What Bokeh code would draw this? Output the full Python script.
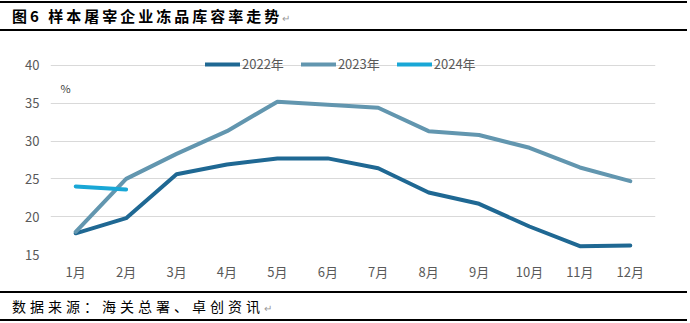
from bokeh.plotting import figure
from bokeh.models import Div, Range1d, Legend, LegendItem, Label, FixedTicker
from bokeh.layouts import column
from bokeh.embed import file_html
from bokeh.resources import INLINE

months = ["1月", "2月", "3月", "4月", "5月", "6月", "7月", "8月", "9月", "10月", "11月", "12月"]
x_idx = list(range(1, 13))
y2022 = [17.8, 19.8, 25.6, 26.9, 27.7, 27.7, 26.4, 23.2, 21.7, 18.7, 16.1, 16.2]
y2023 = [18.0, 25.0, 28.3, 31.3, 35.2, 34.8, 34.4, 31.3, 30.8, 29.1, 26.5, 24.7]
y2024 = [24.0, 23.6]
x2024 = x_idx[:len(y2024)]
series_names = ["2022年", "2023年", "2024年"]
yticks = [15, 20, 25, 30, 35, 40]
title_text = "图6 样本屠宰企业冻品库容率走势"
source_text = "数据来源：海关总署、卓创资讯"
unit_text = "%"

FONT = "Noto Sans CJK SC"
colors = ["#1F6893", "#6296AF", "#19A7D6"]

title_div = Div(
    text=(
        '<div style="box-sizing:border-box;width:687px;height:30px;margin-top:1px;'
        'border-top:2px solid #000;border-bottom:2px solid #000;padding-left:12px;'
        f"font-family:'{FONT}';font-weight:bold;font-size:15px;letter-spacing:3px;"
        'line-height:26px;white-space:nowrap;color:#000;">'
        f'{title_text}<span style="color:#999;font-weight:normal;font-size:10px;letter-spacing:0;">↵</span></div>'
    ),
    width=690, height=31, margin=(0, 0, 0, 0),
)

source_div = Div(
    text=(
        '<div style="box-sizing:border-box;width:687px;height:30px;'
        'border-top:2px solid #000;border-bottom:2px solid #000;padding-left:12px;'
        f"font-family:'{FONT}';font-size:14px;letter-spacing:4px;"
        'line-height:26px;white-space:nowrap;color:#000;">'
        f'{source_text}<span style="color:#999;font-size:10px;letter-spacing:0;">↵</span></div>'
    ),
    width=690, height=32, margin=(0, 0, 0, 0),
)

p = figure(
    width=690, height=260, output_backend="svg", toolbar_location=None,
    x_range=Range1d(0.5, 12.5), y_range=Range1d(15, 41.3),
    min_border_left=50, min_border_right=35, min_border_top=24, min_border_bottom=37,
    background_fill_color="white", border_fill_color="white",
)
p.outline_line_color = None

r1 = p.line(x_idx, y2022, line_color=colors[0], line_width=4, line_cap="round", line_join="round")
r2 = p.line(x_idx, y2023, line_color=colors[1], line_width=4, line_cap="round", line_join="round")
r3 = p.line(x2024, y2024, line_color=colors[2], line_width=4, line_cap="round", line_join="round")

p.xaxis.ticker = FixedTicker(ticks=x_idx)
p.xaxis.major_label_overrides = {i: m for i, m in zip(x_idx, months)}
p.yaxis.ticker = FixedTicker(ticks=yticks)
for ax in (p.xaxis, p.yaxis):
    ax.axis_line_color = None
    ax.major_tick_line_color = None
    ax.minor_tick_line_color = None
    ax.major_tick_out = 0
    ax.major_tick_in = 0
    ax.minor_tick_out = 0
    ax.major_label_text_color = "#595959"
    ax.major_label_text_font = FONT
    ax.major_label_text_font_size = "13px"
p.xaxis.major_label_standoff = 7
p.yaxis.major_label_standoff = 11

p.xgrid.grid_line_color = None
p.ygrid.ticker = FixedTicker(ticks=yticks)
p.ygrid.grid_line_color = "#D9D9D9"
p.ygrid.grid_line_width = 1

p.add_layout(Label(x=0.8, y=36.95, text=unit_text, text_font=FONT, text_font_size="11px",
                   text_color="#404040", text_align="center", text_baseline="middle"))

legend = Legend(
    items=[LegendItem(label=series_names[0], renderers=[r1]),
           LegendItem(label=series_names[1], renderers=[r2]),
           LegendItem(label=series_names[2], renderers=[r3])],
    orientation="horizontal", location=(155, 181),
    glyph_width=35, glyph_height=16, label_standoff=2, spacing=17,
    padding=0, margin=0, background_fill_alpha=0, border_line_alpha=0,
    label_text_font=FONT, label_text_font_size="13px", label_text_color="#595959",
    label_height=16,
)
p.add_layout(legend, "center")

layout = column(title_div, p, source_div, spacing=0)
open("out.html", "w").write(file_html(layout, INLINE))
